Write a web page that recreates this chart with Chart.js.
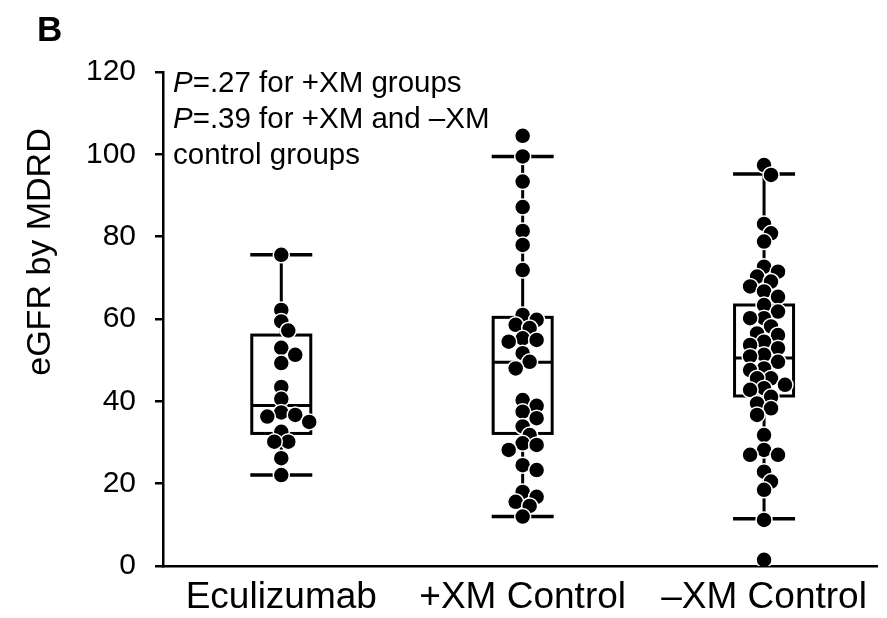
<!DOCTYPE html>
<html>
<head>
<meta charset="utf-8">
<script src="https://cdn.jsdelivr.net/npm/chart.js@4.4.1/dist/chart.umd.min.js"></script>
<style>
  html, body { margin: 0; padding: 0; background: #ffffff; }
  #wrap { width: 887px; height: 618px; }
</style>
</head>
<body>
<div id="wrap"><canvas id="chart" width="887" height="618"></canvas></div>
<script>
// Groups along the x axis
const categories = ['Eculizumab', '+XM Control', '\u2013XM Control'];
const yTicks = [0, 20, 40, 60, 80, 100, 120];

// eGFR (MDRD) per patient, highest first
const eculizumab = [75.6, 62.2, 59.4, 57.2, 53, 51.3, 49.3, 43.5, 40.6, 37.3, 36.7, 36.3, 35, 32.6, 30.2, 30.2, 26.2, 22.1];
const xmPositiveControl = [104.5, 99.5, 93.4, 87.2, 81.4, 78, 71.9, 61, 59.8, 58.6, 57.8, 55.3, 54.9, 54.5, 51.7, 49.6, 48,
  40.3, 38.9, 37.5, 35.9, 33.9, 31.8, 29.8, 29.4, 28.2, 24.5, 23.3, 18, 16.8, 15.6, 14.6, 12];
const xmNegativeControl = [97.4, 95, 83.1, 80.8, 78.8, 72.7, 71.5, 70.3, 69.1, 67.9, 66.7, 65.4, 63.4, 61.8, 60.2, 60.2,
  58.2, 56.5, 56.1, 54.5, 53.7, 52.9, 51.3, 50.9, 49.6, 48, 47.6, 45.6, 45.6, 44, 43.2, 42.8, 41.1, 39.5, 38.3, 36.7,
  31.8, 28.2, 27, 27, 22.9, 20.5, 18.5, 11.2, 1.5];

// Box-and-whisker summaries per group
const whiskerLow  = [22.1, 12, 11.5];
const boxQ1       = [32.2, 32.2, 41.3];
const boxMedian   = [39, 49.5, 50.5];
const boxQ3       = [56.1, 60.4, 63.4];
const whiskerHigh = [75.6, 99.5, 95.2];

// Text
const panelLetter = 'B';
const yTitle = 'eGFR by MDRD';
const noteLines = [
  ['P', '=.27 for +XM groups'],
  ['P', '=.39 for +XM and \u2013XM'],
  ['', 'control groups']
];

const groups = [eculizumab, xmPositiveControl, xmNegativeControl];
const FONT = '"Liberation Sans", Arial, Helvetica, sans-serif';

// Simple beeswarm: nudge each dot sideways until it clears the dots already placed.
function swarm(values, groupIndex) {
  const pxPerY = 494 / 120, pxPerX = 242, minDist = 10, step = 7;
  const placed = [];
  return values.map(v => {
    const py = v * pxPerY;
    let off = 0;
    for (let k = 0; k < 60; k++) {
      const cand = k === 0 ? 0 : (k % 2 ? 1 : -1) * Math.ceil(k / 2) * step;
      if (placed.every(p => Math.hypot(p.x - cand, p.y - py) >= minDist)) { off = cand; break; }
    }
    placed.push({ x: off, y: py });
    return { x: groupIndex + off / pxPerX, y: v };
  });
}

// Boxes, medians and whiskers, drawn beneath the dots
const boxPlugin = {
  id: 'boxWhisker',
  beforeDatasetsDraw(chart) {
    const { ctx, scales: { x, y } } = chart;
    ctx.save();
    ctx.strokeStyle = '#000';
    ctx.lineCap = 'butt';
    categories.forEach((c, i) => {
      const cx = x.getPixelForValue(i);
      const half = 29.5, capHalf = 31;
      const yLo = y.getPixelForValue(whiskerLow[i]);
      const yQ1 = y.getPixelForValue(boxQ1[i]);
      const yMed = y.getPixelForValue(boxMedian[i]);
      const yQ3 = y.getPixelForValue(boxQ3[i]);
      const yHi = y.getPixelForValue(whiskerHigh[i]);
      ctx.lineWidth = 3;
      ctx.beginPath();
      ctx.moveTo(cx, yHi); ctx.lineTo(cx, yQ3);
      ctx.moveTo(cx, yQ1); ctx.lineTo(cx, yLo);
      ctx.stroke();
      ctx.strokeRect(cx - half, yQ3, half * 2, yQ1 - yQ3);
      ctx.beginPath();
      ctx.moveTo(cx - half, yMed); ctx.lineTo(cx + half, yMed);
      ctx.stroke();
      ctx.lineWidth = 3.5;
      ctx.beginPath();
      ctx.moveTo(cx - capHalf, yHi); ctx.lineTo(cx + capHalf, yHi);
      ctx.moveTo(cx - capHalf, yLo); ctx.lineTo(cx + capHalf, yLo);
      ctx.stroke();
    });
    ctx.restore();
  }
};

// Panel letter, axis title and the P-value note
const textPlugin = {
  id: 'texts',
  afterDraw(chart) {
    const { ctx } = chart;
    ctx.save();
    ctx.fillStyle = '#000';
    ctx.textBaseline = 'alphabetic';
    ctx.textAlign = 'left';
    ctx.font = 'bold 35px ' + FONT;
    ctx.fillText(panelLetter, 37, 41);

    ctx.save();
    ctx.translate(50, 252);
    ctx.rotate(-Math.PI / 2);
    ctx.textAlign = 'center';
    ctx.font = '34px ' + FONT;
    ctx.fillText(yTitle, 0, 0);
    ctx.restore();

    const size = 29.5;
    noteLines.forEach((ln, i) => {
      let xPos = 173;
      const base = 92 + i * 36;
      if (ln[0]) {
        ctx.font = 'italic ' + size + 'px ' + FONT;
        ctx.fillText(ln[0], xPos, base);
        xPos += ctx.measureText(ln[0]).width;
      }
      ctx.font = size + 'px ' + FONT;
      ctx.fillText(ln[1], xPos, base);
    });
    ctx.restore();
  }
};

new Chart(document.getElementById('chart'), {
  type: 'scatter',
  data: {
    datasets: groups.map((g, i) => ({
      label: categories[i],
      data: swarm(g, i),
      pointRadius: 8,
      pointHoverRadius: 8,
      pointBackgroundColor: '#000',
      pointBorderColor: '#fff',
      pointBorderWidth: 1.5
    }))
  },
  options: {
    responsive: false,
    animation: false,
    devicePixelRatio: 1,
    layout: { padding: { top: 72, right: 8, bottom: 0, left: 0 } },
    plugins: { legend: { display: false }, tooltip: { enabled: false } },
    scales: {
      x: {
        type: 'linear',
        min: -0.49,
        max: 2.47,
        afterBuildTicks: s => { s.ticks = categories.map((_, i) => ({ value: i })); },
        afterFit: s => { s.height = 52; },
        ticks: {
          callback: v => categories[v],
          font: { family: FONT, size: 37 },
          color: '#000',
          padding: 10,
          maxRotation: 0,
          autoSkip: false
        },
        grid: { display: false, drawTicks: false },
        border: { display: true, color: '#000', width: 2.5 }
      },
      y: {
        min: 0,
        max: 120,
        afterBuildTicks: s => { s.ticks = yTicks.map(v => ({ value: v })); },
        afterFit: s => { s.width = 163; },
        ticks: { font: { family: FONT, size: 30 }, color: '#000', padding: 19 },
        grid: { drawOnChartArea: false, drawTicks: true, tickLength: 8, color: '#000', lineWidth: 2.5 },
        border: { display: true, color: '#000', width: 2.5 }
      }
    }
  },
  plugins: [boxPlugin, textPlugin]
});
</script>
</body>
</html>
